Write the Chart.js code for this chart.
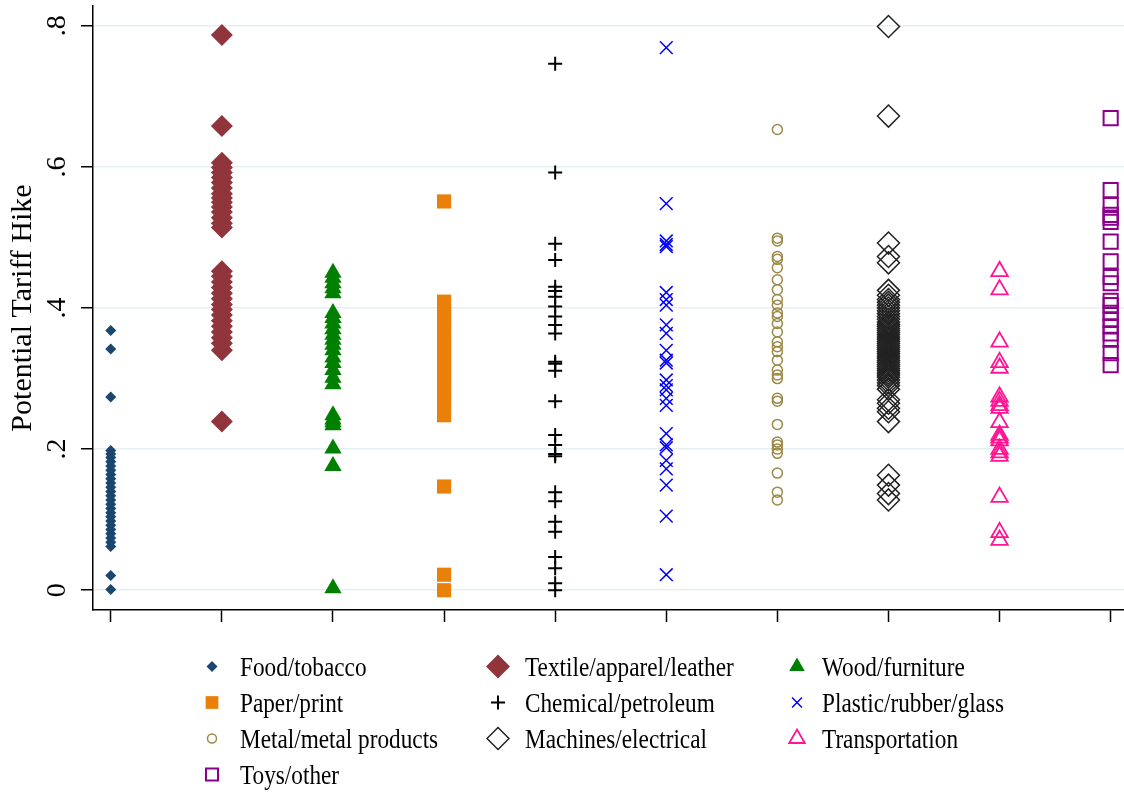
<!DOCTYPE html>
<html>
<head>
<meta charset="utf-8">
<title>Potential Tariff Hike by sector</title>
<script src="https://cdn.jsdelivr.net/npm/chart.js@4.4.1/dist/chart.umd.min.js"></script>
<style>
  html, body { margin: 0; padding: 0; background: #fff; }
  #wrap { width: 1124px; height: 793px; position: relative; }
</style>
</head>
<body>
<div id="wrap"><canvas id="tariffChart"></canvas></div>
<script>
// sectors, in plotting order (x position = index + 1)
const categories = [
  'Food/tobacco', 'Textile/apparel/leather', 'Wood/furniture',
  'Paper/print', 'Chemical/petroleum', 'Plastic/rubber/glass',
  'Metal/metal products', 'Machines/electrical', 'Transportation',
  'Toys/other'
];

// potential tariff hike per product
const foodTobacco = [0.368, 0.342, 0.274, 0.198, 0.193, 0.188, 0.182, 0.176, 0.170, 0.164, 0.158,
  0.152, 0.146, 0.140, 0.134, 0.128, 0.122, 0.116, 0.110, 0.104, 0.098, 0.092, 0.086, 0.080,
  0.074, 0.068, 0.062, 0.021, 0.001];
const textileApparel = [0.787, 0.658, 0.606, 0.599, 0.592, 0.585, 0.578, 0.570, 0.562, 0.556,
  0.550, 0.543, 0.536, 0.528, 0.520, 0.514, 0.452, 0.445, 0.437, 0.429, 0.421, 0.413, 0.405,
  0.398, 0.390, 0.382, 0.374, 0.366, 0.358, 0.350, 0.340, 0.239];
const woodFurniture = [0.450, 0.443, 0.435, 0.428, 0.421, 0.393, 0.386, 0.378, 0.370, 0.362,
  0.355, 0.348, 0.340, 0.330, 0.322, 0.312, 0.301, 0.292, 0.248, 0.242, 0.238, 0.234, 0.201,
  0.176, 0.003];
const paperPrint = [0.551, 0.409, 0.400, 0.390, 0.380, 0.370, 0.360, 0.350, 0.340, 0.330, 0.320,
  0.310, 0.300, 0.290, 0.280, 0.270, 0.260, 0.248, 0.147, 0.022, 0.000];
const chemicalPetroleum = [0.746, 0.592, 0.491, 0.468, 0.430, 0.424, 0.416, 0.402, 0.388, 0.376,
  0.364, 0.324, 0.321, 0.311, 0.268, 0.220, 0.206, 0.193, 0.190, 0.139, 0.126, 0.097, 0.083,
  0.047, 0.031, 0.010, 0.000];
const plasticRubber = [0.769, 0.548, 0.495, 0.490, 0.487, 0.422, 0.412, 0.404, 0.376, 0.364,
  0.340, 0.326, 0.322, 0.298, 0.290, 0.284, 0.272, 0.262, 0.222, 0.206, 0.202, 0.184, 0.172,
  0.149, 0.105, 0.022];
const metalProducts = [0.653, 0.499, 0.495, 0.473, 0.469, 0.457, 0.440, 0.426, 0.412, 0.404,
  0.393, 0.388, 0.378, 0.366, 0.352, 0.345, 0.338, 0.326, 0.312, 0.305, 0.300, 0.272, 0.268,
  0.235, 0.210, 0.206, 0.200, 0.194, 0.166, 0.139, 0.128];
const machinesElectrical = [0.799, 0.672, 0.492, 0.473, 0.464, 0.425, 0.418, 0.412, 0.408,
  0.404, 0.400, 0.396, 0.392, 0.388, 0.384, 0.380, 0.377, 0.374, 0.371, 0.368, 0.365, 0.362,
  0.359, 0.356, 0.353, 0.350, 0.347, 0.344, 0.341, 0.338, 0.335, 0.332, 0.329, 0.326, 0.323,
  0.320, 0.317, 0.314, 0.311, 0.308, 0.305, 0.302, 0.298, 0.294, 0.290, 0.285, 0.270, 0.265,
  0.258, 0.253, 0.239, 0.163, 0.149, 0.137, 0.128];
const transportation = [0.452, 0.426, 0.352, 0.323, 0.315, 0.274, 0.268, 0.262, 0.258, 0.238,
  0.220, 0.216, 0.212, 0.200, 0.195, 0.190, 0.132, 0.082, 0.071];
const toysOther = [0.669, 0.567, 0.546, 0.532, 0.528, 0.522, 0.494, 0.466, 0.444, 0.435, 0.410,
  0.404, 0.393, 0.383, 0.374, 0.364, 0.355, 0.336, 0.319];

const seriesValues = [foodTobacco, textileApparel, woodFurniture, paperPrint, chemicalPetroleum,
  plasticRubber, metalProducts, machinesElectrical, transportation, toysOther];

// y axis ticks as Stata prints them
const yTickValues = [0, 0.2, 0.4, 0.6, 0.8];
const yTickLabels = ['0', '.2', '.4', '.6', '.8'];

// marker look per sector
const markerStyles = [
  { style: 'rectRot',  r: 5.5, legendR: 5.5, color: '#1a476f', filled: true,  bw: 0 },
  { style: 'rectRot',  r: 11,  legendR: 12,  color: '#90353b', filled: true,  bw: 0 },
  { style: 'triangle', r: 10,  legendR: 9,   color: '#008000', filled: true,  bw: 0 },
  { style: 'rect',     r: 10,  legendR: 9,   color: '#e8800a', filled: true,  bw: 0 },
  { style: 'cross',    r: 7,   legendR: 7,   color: '#000000', filled: false, bw: 2 },
  { style: 'crossRot', r: 9,   legendR: 7,   color: '#0000ff', filled: false, bw: 1.5 },
  { style: 'circle',   r: 5,   legendR: 4.5, color: '#9c8847', filled: false, bw: 1.5 },
  { style: 'rectRot',  r: 11,  legendR: 11,  color: '#222222', filled: false, bw: 1.5 },
  { style: 'triangle', r: 9.5, legendR: 9,   color: '#ff1493', filled: false, bw: 1.8 },
  { style: 'rect',     r: 10,  legendR: 8.5, color: '#8b008b', filled: false, bw: 2 }
];

const datasets = categories.map((name, i) => {
  const m = markerStyles[i];
  return {
    label: name,
    data: seriesValues[i].map(v => ({ x: i + 1, y: v })),
    pointStyle: m.style,
    pointRadius: m.r,
    pointBorderWidth: m.bw,
    pointBackgroundColor: m.filled ? m.color : 'rgba(0,0,0,0)',
    pointBorderColor: m.color,
    showLine: false
  };
});

const serif = '"Liberation Serif", "Times New Roman", serif';

// Stata draws the y labels turned on their side
const rotatedYTicks = {
  id: 'rotatedYTicks',
  afterDraw(chart) {
    const { ctx } = chart;
    const y = chart.scales.y;
    ctx.save();
    ctx.font = '28px ' + serif;
    ctx.fillStyle = '#000';
    ctx.textAlign = 'center';
    ctx.textBaseline = 'middle';
    yTickValues.forEach((v, i) => {
      ctx.save();
      ctx.translate(y.right - 35, y.getPixelForValue(v));
      ctx.rotate(-Math.PI / 2);
      ctx.fillText(yTickLabels[i], 0, 0);
      ctx.restore();
    });
    ctx.restore();
  }
};

// three column legend under the plot, like the original
const columnLegend = {
  id: 'columnLegend',
  afterDraw(chart) {
    const { ctx } = chart;
    const iconX = [212, 498, 797];
    const textX = [240, 525, 822];
    const firstBaseline = 676, rowGap = 36;
    ctx.save();
    ctx.font = '28px ' + serif;
    ctx.textBaseline = 'alphabetic';
    chart.data.datasets.forEach((ds, i) => {
      const m = markerStyles[i];
      const col = i % 3, row = Math.floor(i / 3);
      const base = firstBaseline + row * rowGap;
      ctx.fillStyle = m.filled ? m.color : 'rgba(0,0,0,0)';
      ctx.strokeStyle = m.color;
      ctx.lineWidth = m.bw;
      Chart.helpers.drawPoint(ctx, { pointStyle: m.style, radius: m.legendR, borderWidth: m.bw, rotation: 0 },
        iconX[col], base - 9.5);
      ctx.fillStyle = '#000';
      ctx.save();
      ctx.translate(textX[col], base);
      ctx.scale(0.83, 1);
      ctx.fillText(ds.label, 0, 0);
      ctx.restore();
    });
    ctx.restore();
  }
};

new Chart(document.getElementById('tariffChart'), {
  type: 'scatter',
  data: { datasets },
  options: {
    responsive: true,
    maintainAspectRatio: false,
    animation: false,
    events: [],
    layout: { autoPadding: false, padding: { top: 6, right: 0, bottom: 0, left: 0 } },
    plugins: {
      legend: { display: false },
      tooltip: { enabled: false }
    },
    scales: {
      x: {
        type: 'linear',
        min: 0.84,
        max: 10.12,
        afterBuildTicks: s => { s.ticks = categories.map((c, i) => ({ value: i + 1 })); },
        afterFit: s => { s.height = 183; },
        ticks: { display: false },
        grid: { drawOnChartArea: false, drawTicks: true, tickLength: 12, tickColor: '#000', tickWidth: 1.5 },
        border: { display: true, color: '#000', width: 1.5 }
      },
      y: {
        min: -0.028,
        max: 0.828,
        afterBuildTicks: s => { s.ticks = yTickValues.map(v => ({ value: v })); },
        afterFit: s => { s.width = 93; },
        ticks: { display: false },
        grid: { color: '#e6eff1', lineWidth: 1.5, drawTicks: true, tickLength: 12, tickColor: '#000', tickWidth: 1.5 },
        border: { display: true, color: '#000', width: 1.5 },
        title: {
          display: true,
          text: 'Potential Tariff Hike',
          color: '#000',
          font: { family: serif, size: 30 },
          padding: { top: 5, bottom: 0 }
        }
      }
    }
  },
  plugins: [rotatedYTicks, columnLegend]
});
</script>
</body>
</html>
